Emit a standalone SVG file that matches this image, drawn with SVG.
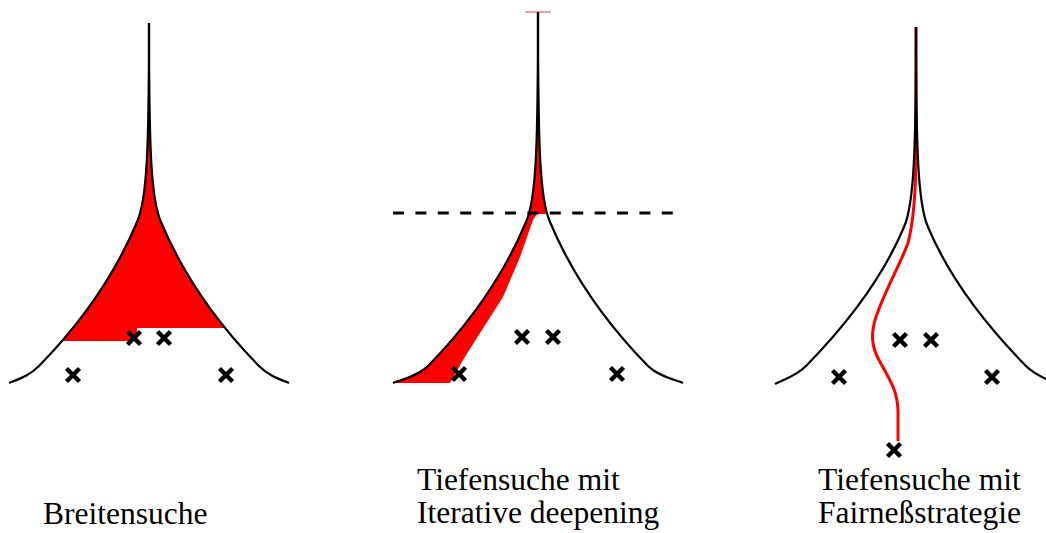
<svg xmlns="http://www.w3.org/2000/svg" xmlns:xlink="http://www.w3.org/1999/xlink" width="1046" height="533" viewBox="0 0 1046 533">
<style>
.edge{fill:none;stroke:#000;stroke-width:2.2;stroke-linejoin:round}
.lbl{font-size:31.5px;fill:#000}
.xm{fill:none;stroke:#000;stroke-width:4.4}
.dash{stroke:#000;stroke-width:2.8;stroke-dasharray:11 11.4}
.red{fill:#ff0000}
</style>
<defs>
<path id="xm" class="xm" d="M-6.5,-6.5L6.5,6.5M-6.5,6.5L6.5,-6.5"/>
<clipPath id="c1"><polygon points="0,105 300,105 300,328 137,328 137,341 0,341"/></clipPath>
<clipPath id="c2"><polygon points="380,95 700,95 700,213 537,214 533,220 520,257 503,297 480,333 463,360 450,383 450,395 380,395"/></clipPath>
</defs>
<rect width="1046" height="533" fill="#fff"/>
<g id="tree1">
<path class="red" clip-path="url(#c1)" d="M149,23 C149,150 147,200 137,222 C119,265 89,315 39,366 C29,376 19,379 9,383 L289,383 C279,379 269,376 259,366 C209,315 179,265 161,222 C151,200 149,150 149,23 Z"/>
<path class="edge" d="M149,23 C149,150 147,200 137,222 C119,265 89,315 39,366 C29,376 19,379 9,383"/>
<path class="edge" d="M149,23 C149,150 151,200 161,222 C179,265 209,315 259,366 C269,376 279,379 289,383"/>
<use xlink:href="#xm" x="73" y="375"/>
<use xlink:href="#xm" x="134" y="338"/>
<use xlink:href="#xm" x="164" y="338"/>
<use xlink:href="#xm" x="226" y="375"/>
</g>
<g id="tree2">
<path class="red" clip-path="url(#c2)" d="M538,12 C538,150 536,200 526,222 C508,265 478,315 428,366 C418,376 403,379 393,383 L683,383 C673,379 658,376 648,366 C598,315 568,265 550,222 C540,200 538,150 538,12 Z"/>
<line x1="525" y1="12" x2="551" y2="12" stroke="#f08080" stroke-width="1.5"/>
<path class="edge" d="M538,12 C538,150 536,200 526,222 C508,265 478,315 428,366 C418,376 403,379 393,383"/>
<path class="edge" d="M538,12 C538,150 540,200 550,222 C568,265 598,315 648,366 C658,376 673,379 683,383"/>
<line class="dash" x1="393" y1="213" x2="673" y2="213"/>
<use xlink:href="#xm" x="459" y="374"/>
<use xlink:href="#xm" x="522" y="337"/>
<use xlink:href="#xm" x="553" y="337"/>
<use xlink:href="#xm" x="617" y="374"/>
</g>
<g id="tree3">
<path d="M916,27 L916,150 C916,190 914,220 908,243 C900,265 885,290 876,317 C870,335 872,348 880,362 C890,380 897,390 898,410 L898,441" fill="none" stroke="#ff0000" stroke-width="3"/>
<path class="edge" d="M916,27 C916,150 914,205 904,227 C886,270 856,315 806,366 C796,376 785,379 775,384"/>
<path class="edge" d="M916,27 C916,150 918,205 928,227 C946,270 976,315 1026,366 C1036,376 1047,379 1057,384"/>
<use xlink:href="#xm" x="839" y="377"/>
<use xlink:href="#xm" x="900" y="340"/>
<use xlink:href="#xm" x="931" y="340"/>
<use xlink:href="#xm" x="992" y="377"/>
<use xlink:href="#xm" x="894" y="450"/>
</g>
<g id="labels" font-family="Liberation Serif, Times New Roman, serif">
<text class="lbl" x="43" y="524">Breitensuche</text>
<text class="lbl" x="417" y="490">Tiefensuche mit</text>
<text class="lbl" x="417" y="523">Iterative deepening</text>
<text class="lbl" x="818" y="490">Tiefensuche mit</text>
<text class="lbl" x="818" y="523">Fairneßstrategie</text>
</g>
</svg>
